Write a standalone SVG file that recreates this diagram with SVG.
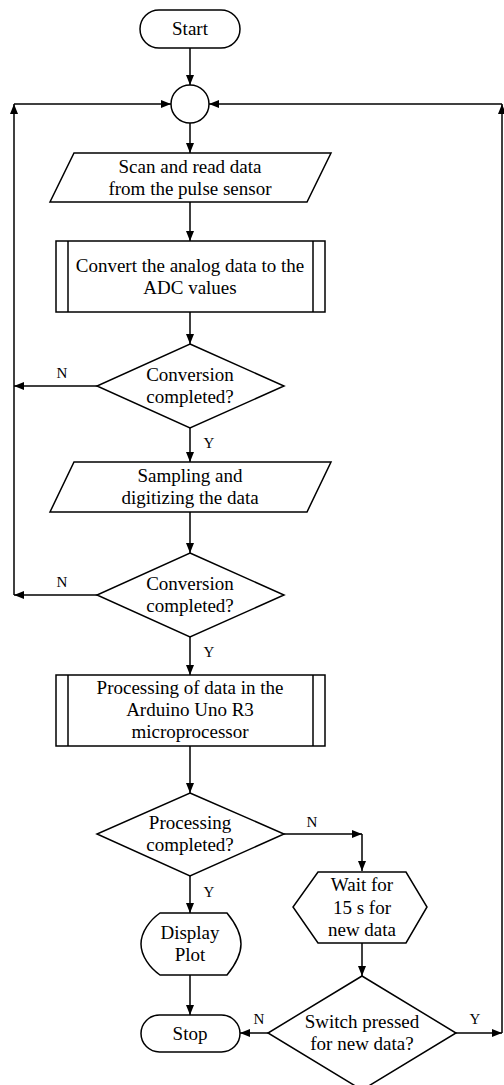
<svg xmlns="http://www.w3.org/2000/svg" width="504" height="1085" viewBox="0 0 504 1085" font-family="Liberation Serif, Times New Roman, serif" font-size="19" text-anchor="middle">
<style>
.s{fill:#fff;stroke:#000;stroke-width:1.5}
.c{fill:none;stroke:#000;stroke-width:1.5}
.a{marker-end:url(#ah)}
.l{font-size:15px}
</style>
<defs>
<marker id="ah" markerUnits="userSpaceOnUse" markerWidth="10" markerHeight="10" viewBox="0 0 10 10" refX="10" refY="5" orient="auto">
<path d="M0,1 L10,5 L0,9 z" fill="#000"/>
</marker>
</defs>
<rect width="504" height="1085" fill="#fff"/>
<g id="connectors">
<line class="c a" x1="190" y1="48" x2="190" y2="85"/>
<line class="c a" x1="190" y1="123" x2="190" y2="153"/>
<line class="c a" x1="190" y1="202" x2="190" y2="241"/>
<line class="c a" x1="190" y1="312" x2="190" y2="344"/>
<line class="c a" x1="97" y1="386" x2="14" y2="386"/>
<line class="c a" x1="190" y1="428" x2="190" y2="462"/>
<line class="c a" x1="190" y1="512" x2="190" y2="553"/>
<line class="c a" x1="97" y1="595" x2="14" y2="595"/>
<line class="c a" x1="14" y1="595" x2="14" y2="104"/>
<line class="c a" x1="14" y1="104" x2="171" y2="104"/>
<line class="c a" x1="190" y1="637" x2="190" y2="675"/>
<line class="c a" x1="190" y1="746" x2="190" y2="793"/>
<line class="c a" x1="284" y1="834" x2="362" y2="834"/>
<line class="c a" x1="362" y1="834" x2="362" y2="871"/>
<line class="c a" x1="190" y1="876" x2="190" y2="913"/>
<line class="c a" x1="190" y1="975" x2="190" y2="1015"/>
<line class="c a" x1="362" y1="943" x2="362" y2="976"/>
<line class="c a" x1="268" y1="1033" x2="240" y2="1033"/>
<line class="c a" x1="456" y1="1033" x2="502" y2="1033"/>
<line class="c a" x1="502" y1="1033" x2="502" y2="104"/>
<line class="c a" x1="502" y1="104" x2="209" y2="104"/>
<text class="l" x="62" y="378">N</text>
<text class="l" x="209" y="448">Y</text>
<text class="l" x="62" y="587">N</text>
<text class="l" x="209" y="657">Y</text>
<text class="l" x="312" y="827">N</text>
<text class="l" x="209" y="897">Y</text>
<text class="l" x="259" y="1024">N</text>
<text class="l" x="475" y="1024">Y</text>
</g>
<g id="start">
<rect class="s" x="140" y="10" width="100" height="38" rx="19"/>
<text x="190" y="35">Start</text>
</g>
<g id="junction">
<circle class="s" cx="190" cy="104" r="19"/>
</g>
<g id="scan">
<polygon class="s" points="74,153 331,153 307,202 50,202"/>
<text x="190" y="173">Scan and read data</text>
<text x="190" y="195">from the pulse sensor</text>
</g>
<g id="convert">
<rect class="s" x="56" y="241" width="269" height="71"/>
<line class="c" x1="68" y1="241" x2="68" y2="312"/>
<line class="c" x1="313" y1="241" x2="313" y2="312"/>
<text x="190" y="272">Convert the analog data to the</text>
<text x="190" y="294">ADC values</text>
</g>
<g id="decision1">
<polygon class="s" points="190,344 284,386 190,428 97,386"/>
<text x="190" y="381">Conversion</text>
<text x="190" y="403">completed?</text>
</g>
<g id="sampling">
<polygon class="s" points="74,462 331,462 307,512 50,512"/>
<text x="190" y="482">Sampling and</text>
<text x="190" y="504">digitizing the data</text>
</g>
<g id="decision2">
<polygon class="s" points="190,553 284,595 190,637 97,595"/>
<text x="190" y="590">Conversion</text>
<text x="190" y="612">completed?</text>
</g>
<g id="processing">
<rect class="s" x="56" y="675" width="269" height="71"/>
<line class="c" x1="68" y1="675" x2="68" y2="746"/>
<line class="c" x1="313" y1="675" x2="313" y2="746"/>
<text x="190" y="694">Processing of data in the</text>
<text x="190" y="716">Arduino Uno R3</text>
<text x="190" y="738">microprocessor</text>
</g>
<g id="decision3">
<polygon class="s" points="190,793 284,834 190,876 97,834"/>
<text x="190" y="829">Processing</text>
<text x="190" y="851">completed?</text>
</g>
<g id="wait">
<polygon class="s" points="318,872 406,872 427,907 406,943 318,943 293,907"/>
<text x="362" y="891">Wait for</text>
<text x="362" y="914">15 s for</text>
<text x="362" y="936">new data</text>
</g>
<g id="display">
<path class="s" d="M160,913 L227,913 C236,924 241,934 241,944 C241,954 236,964 227,975 L160,975 C150,968 141,956 141,944 C141,932 150,920 160,913 Z"/>
<text x="190" y="939">Display</text>
<text x="190" y="961">Plot</text>
</g>
<g id="stop">
<rect class="s" x="141" y="1015" width="99" height="37" rx="18.5"/>
<text x="190" y="1040">Stop</text>
</g>
<g id="decision4">
<polygon class="s" points="362,976 456,1033 362,1090 268,1033"/>
<text x="362" y="1028">Switch pressed</text>
<text x="362" y="1050">for new data?</text>
</g>
</svg>
